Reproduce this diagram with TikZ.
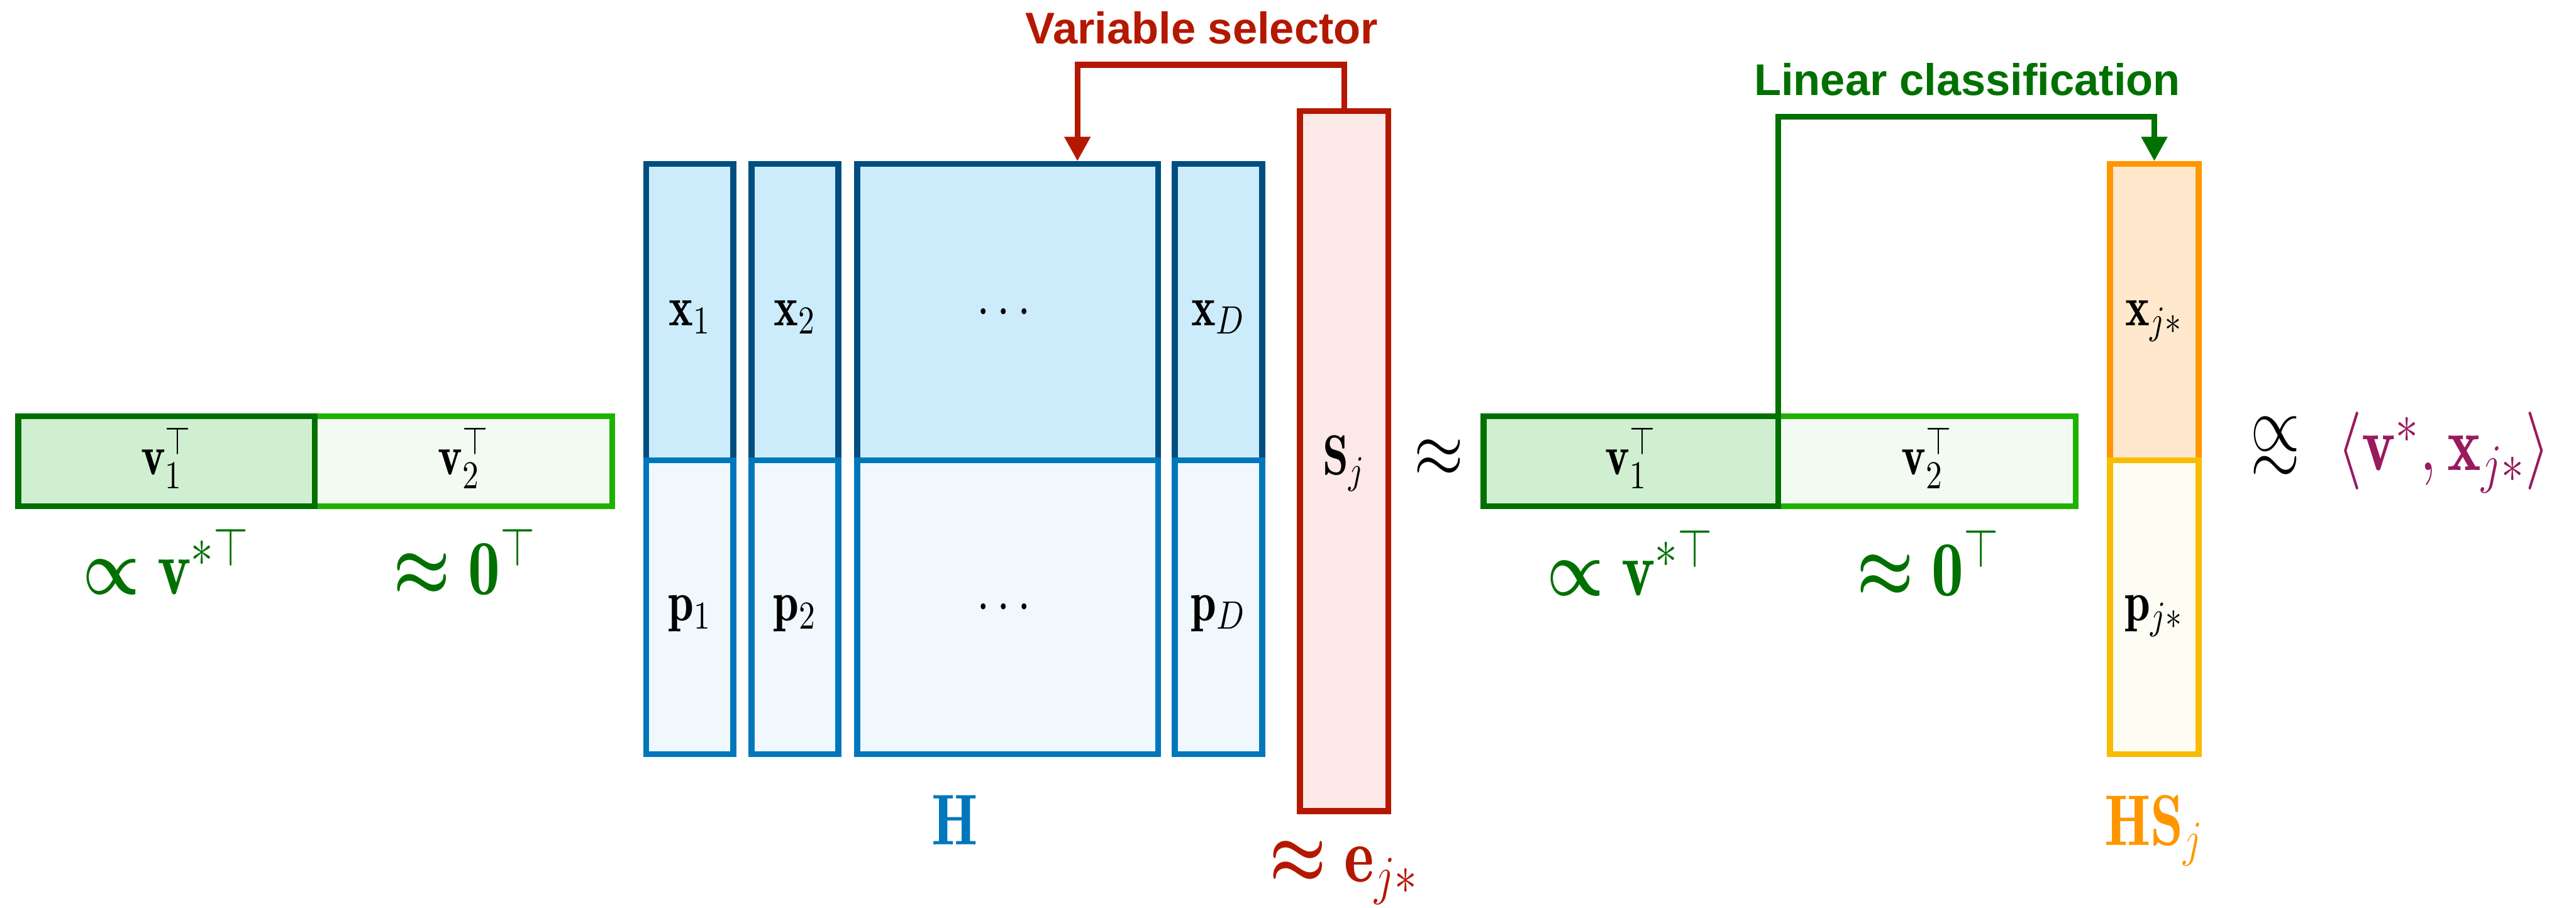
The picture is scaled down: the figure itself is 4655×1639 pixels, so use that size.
\RequirePackage{fix-cm}
\documentclass[tikz,border=0pt]{standalone}
\usepackage{amsmath,amssymb}
\usepackage{graphicx}
\usepackage{fontspec}
\newfontfamily\sanslabel{Liberation Sans}
\usetikzlibrary{arrows.meta}

\definecolor{selred}{RGB}{180,24,0}
\definecolor{selfill}{RGB}{252,232,230}
\definecolor{clsgreen}{RGB}{0,112,0}
\definecolor{vonefill}{RGB}{208,239,208}
\definecolor{vtwoline}{RGB}{30,178,0}
\definecolor{vtwofill}{RGB}{242,250,242}
\definecolor{xline}{RGB}{0,78,128}
\definecolor{xfill}{RGB}{204,236,252}
\definecolor{pline}{RGB}{0,119,187}
\definecolor{pfill}{RGB}{240,248,254}
\definecolor{hsxline}{RGB}{255,150,0}
\definecolor{hsxfill}{RGB}{255,232,204}
\definecolor{hspline}{RGB}{248,188,0}
\definecolor{hspfill}{RGB}{253,253,243}
\definecolor{innerpurple}{RGB}{153,26,95}

\newcommand{\narrowmath}[1]{\scalebox{0.82}[1]{#1}}
\newcommand{\propsim}{\mathrel{\vcenter{\offinterlineskip\hbox{$\propto$}\vskip0.15ex\hbox{$\sim$}}}}

\begin{document}
\begin{tikzpicture}[x=0.05mm, y=-0.05mm, line width=1.5pt,
    cell/.style={draw, rectangle, outer sep=0pt, inner sep=0pt,
        text height=0.7em, text depth=0pt, font=\fontsize{14.5}{17}\selectfont},
    xcell/.style={cell, draw=xline, fill=xfill, minimum height=26.75mm},
    pcell/.style={cell, draw=pline, fill=pfill, minimum height=26.55mm},
    vonecell/.style={cell, draw=clsgreen, fill=vonefill, minimum height=8.1mm},
    vtwocell/.style={cell, draw=vtwoline, fill=vtwofill, minimum height=8.1mm},
    biglabel/.style={anchor=base, font=\fontsize{20}{24}\selectfont},
    toplabel/.style={anchor=base, font=\sanslabel\bfseries\fontsize{11.4}{13}\selectfont},
    flow/.style={-{Triangle[length=2.2mm, width=2.25mm]}, shorten >=0.25mm}]
    \useasboundingbox (0,0) rectangle (4655,1639);

    % left row vector
    \node[vtwocell, minimum width=26.85mm] (lv2) at (837.5,833) {\narrowmath{$\mathbf{v}_2^\top$}};
    \node[vonecell, minimum width=26.8mm] (lv1) at (301,833) {\narrowmath{$\mathbf{v}_1^\top$}};
    \node[biglabel, text=clsgreen] (lprop) at (300,1073) {\narrowmath{$\boldsymbol{\propto} \mathbf{v}^{*\top}$}};
    \node[biglabel, text=clsgreen] (lzero) at (840,1073) {\narrowmath{$\boldsymbol{\approx} \mathbf{0}^\top$}};

    % matrix H
    \node[xcell, minimum width=7.85mm] (x1) at (1246.5,563.5) {\narrowmath{$\mathbf{x}_1$}};
    \node[xcell, minimum width=7.85mm] (x2) at (1436.5,563.5) {\narrowmath{$\mathbf{x}_2$}};
    \node[xcell, minimum width=27.2mm] (xm) at (1821,563.5) {\narrowmath{$\cdots$}};
    \node[xcell, minimum width=7.9mm] (xD) at (2202,563.5) {\narrowmath{$\mathbf{x}_D$}};
    \node[pcell, minimum width=7.85mm] (p1) at (1246.5,1096.5) {\narrowmath{$\mathbf{p}_1$}};
    \node[pcell, minimum width=7.85mm] (p2) at (1436.5,1096.5) {\narrowmath{$\mathbf{p}_2$}};
    \node[pcell, minimum width=27.2mm] (pm) at (1821,1096.5) {\narrowmath{$\cdots$}};
    \node[pcell, minimum width=7.9mm] (pD) at (2202,1096.5) {\narrowmath{$\mathbf{p}_D$}};
    \node[biglabel, text=pline, font=\fontsize{18.5}{22}\selectfont] (Hlab) at (1725,1526) {\narrowmath{$\mathbf{H}$}};

    % selector S_j
    \node[cell, draw=selred, fill=selfill, minimum width=8mm, minimum height=63.2mm] (S) at (2429,833) {\narrowmath{$\mathbf{S}_j$}};
    \node[biglabel, text=selred] (elab) at (2429,1593) {\narrowmath{$\boldsymbol{\approx} \mathbf{e}_{j*}$}};
    \node[font=\fontsize{20}{24}\selectfont] (approx) at (2600,828) {\narrowmath{$\approx$}};

    % right row vector
    \node[vtwocell, minimum width=26.9mm] (rv2) at (3482,833) {\narrowmath{$\mathbf{v}_2^\top$}};
    \node[vonecell, minimum width=26.6mm] (rv1) at (2947,833) {\narrowmath{$\mathbf{v}_1^\top$}};
    \node[biglabel, text=clsgreen] (rprop) at (2946,1076) {\narrowmath{$\boldsymbol{\propto} \mathbf{v}^{*\top}$}};
    \node[biglabel, text=clsgreen] (rzero) at (3485,1076) {\narrowmath{$\boldsymbol{\approx} \mathbf{0}^\top$}};

    % column HS_j
    \node[cell, draw=hsxline, fill=hsxfill, minimum width=8mm, minimum height=26.75mm] (hsx) at (3893,563.5) {\narrowmath{$\mathbf{x}_{j*}$}};
    \node[cell, draw=hspline, fill=hspfill, minimum width=8mm, minimum height=26.55mm] (hsp) at (3893,1096.5) {\narrowmath{$\mathbf{p}_{j*}$}};
    \node[biglabel, text=hsxline, font=\fontsize{18.5}{22}\selectfont] (HSlab) at (3893,1527) {\narrowmath{$\mathbf{HS}_j$}};
    \node[anchor=base west, font=\fontsize{20}{24}\selectfont] (inner) at (4038,850)
        {\narrowmath{$\propsim\ \color{innerpurple}\langle \mathbf{v}^*, \mathbf{x}_{j*}\rangle$}};

    % connectors
    \coordinate (selbend) at (1947,117);
    \draw[flow, selred] (S.north) |- (selbend) -- (selbend |- xm.north);
    \node[toplabel, text=selred] (sellab) at (2172,79) {Variable selector};
    \coordinate (clsbend) at (3893,211);
    \draw[flow, clsgreen] (rv1.north east) |- (clsbend) -- (hsx.north);
    \node[toplabel, text=clsgreen] (clslab) at (3555,172) {Linear classification};
\end{tikzpicture}
\end{document}
